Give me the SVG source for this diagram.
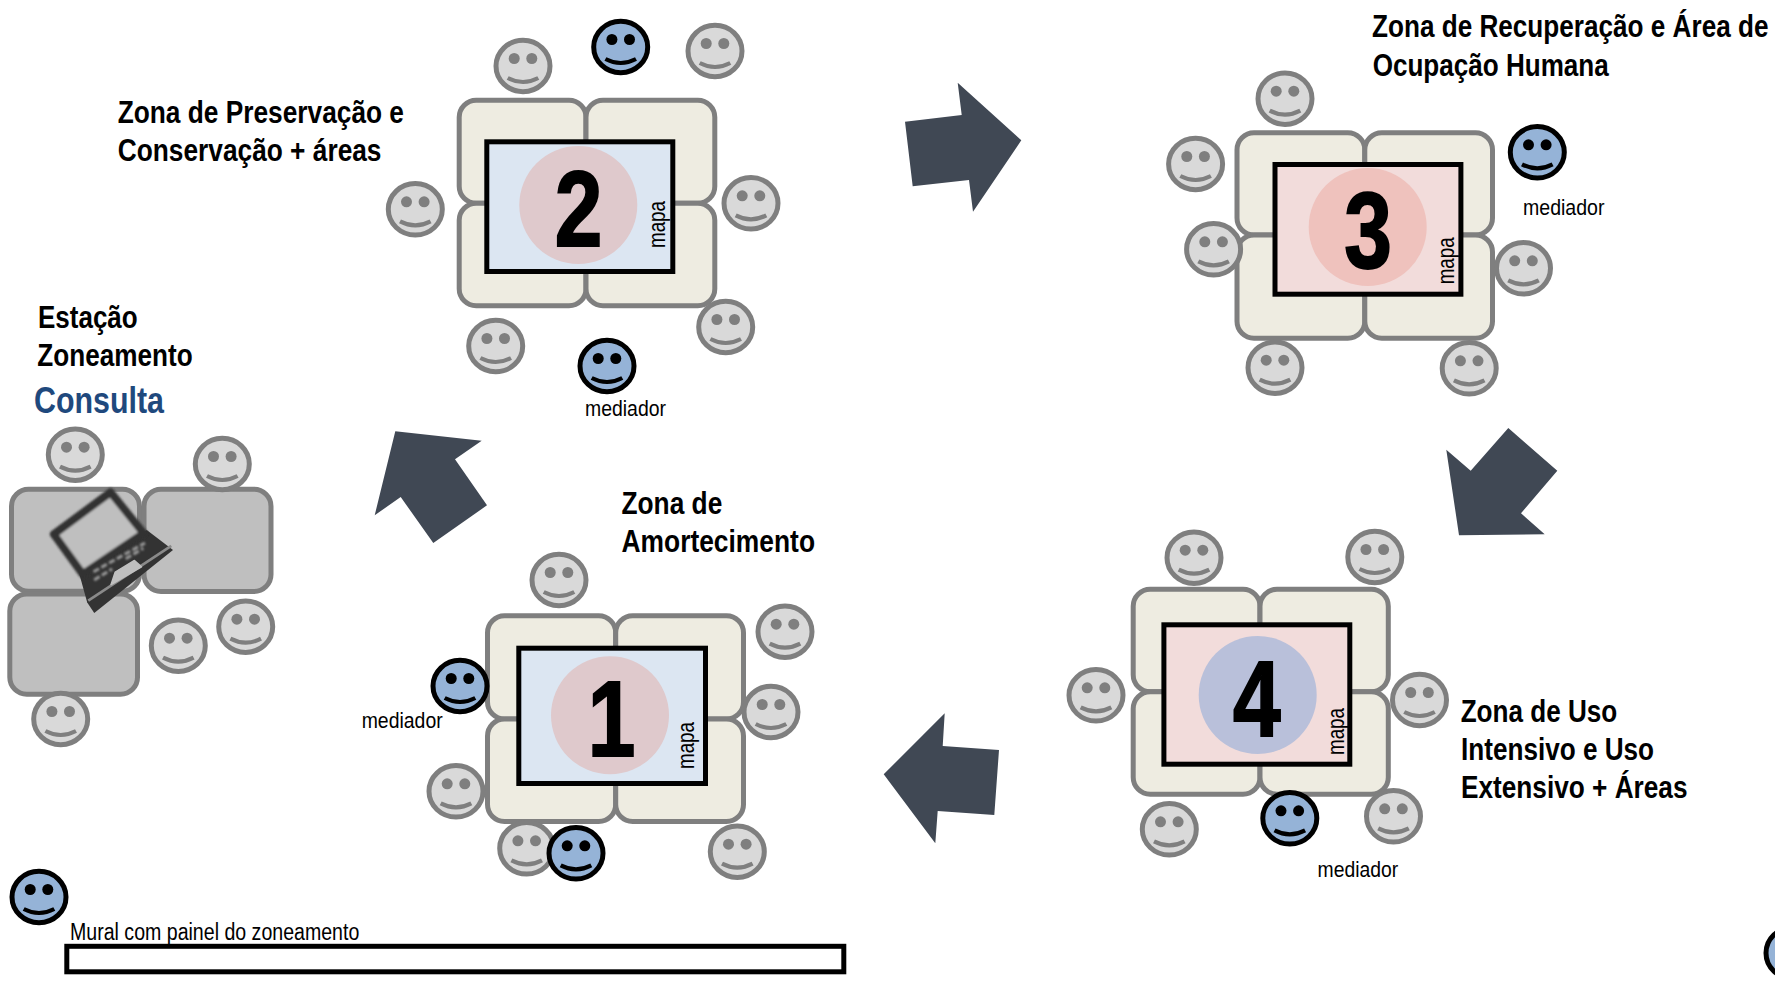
<svg xmlns="http://www.w3.org/2000/svg" xmlns:xlink="http://www.w3.org/1999/xlink" width="1775" height="982" viewBox="0 0 1775 982">
<style>
text{font-family:"Liberation Sans",Arial,sans-serif;fill:#000}
.t{stroke:#7f7f7f;stroke-width:5;fill:#eeece1}
.c .t{fill:#bfbfbf}
.m{stroke:#000;stroke-width:5;stroke-linejoin:miter}
.b{fill:#dce6f2}
.p{fill:#f2dcdb}
.h{font-size:32px;font-weight:700}
.s{font-size:22px}
.v{font-size:23px}
.d{font-size:107px;font-weight:700;text-anchor:middle;stroke:#000;stroke-width:2}
.a{fill:#404854}
</style>
<defs>
<g id="gray">
<ellipse rx="27" ry="25.7" fill="#d9d9d9" stroke="#7f7f7f" stroke-width="5"/>
<circle cx="-8.800" cy="-7.500" r="5.500" fill="#7f7f7f"/><circle cx="8.800" cy="-7.500" r="5.500" fill="#7f7f7f"/>
<path d="M-15.300 12Q0 20 15.300 12" fill="none" stroke="#7f7f7f" stroke-width="4.200"/>
</g>
<g id="blue">
<ellipse rx="27" ry="25.7" fill="#95b3d7" stroke="#000" stroke-width="5"/>
<circle cx="-8.800" cy="-7.500" r="5.500"/><circle cx="8.800" cy="-7.500" r="5.500"/>
<path d="M-15.300 12Q0 20 15.300 12" fill="none" stroke="#000" stroke-width="4.200"/>
</g>
<filter id="soft" x="-10%" y="-10%" width="120%" height="120%"><feGaussianBlur stdDeviation="0.8"/></filter>
</defs>

<g id="connectors">
<polygon class="a" points="905,121.700 961.700,115 957.700,82.700 1021.300,140.300 973,211.700 969,180 912.700,186.300"/>
<polygon class="a" points="1508.300,428 1557.300,470.700 1521,513.300 1544.700,534.300 1459,535.300 1446.300,449.700 1470.700,470.700"/>
<polygon class="a" points="999,750 942.700,746 944.700,713.300 883.700,774.300 935.300,843.300 937.700,811 994.300,815"/>
<polygon class="a" points="395.300,431.300 481.700,440.700 455,459.300 487,505.300 433.300,543 400.700,497 374.700,515.300"/>
</g>

<g id="estacao" class="c">
<rect class="t" x="11.500" y="489.200" width="128" height="102" rx="17"/>
<rect class="t" x="144" y="489.200" width="127" height="102.300" rx="17"/>
<rect class="t" x="9.800" y="594" width="127.700" height="100.200" rx="17"/>
<g id="laptop" transform="translate(110 550) scale(1.050) translate(-110 -550)">
<polygon points="145,531 170,550 95,610 88.300,600 80,570" fill="#333"/>
<polygon points="110.500,495 142,534 84,573 56.500,535" fill="#bfbfbf" stroke="#333" stroke-width="7.500" stroke-linejoin="round" filter="url(#soft)"/>
<line x1="89.300" y1="598.300" x2="168.300" y2="546" stroke="#8a8a8a" stroke-width="2.500"/>
<polygon points="111,583 115,571 133.300,560 140,566" fill="#bfbfbf" stroke="#bfbfbf" stroke-width="1.500" stroke-linejoin="round"/>
<g fill="none" stroke="#9a9a9a" stroke-width="2.800" stroke-dasharray="6 2.500" filter="url(#soft)">
<line x1="94.300" y1="570.700" x2="143.300" y2="543.300"/>
<line x1="95" y1="578.500" x2="112" y2="568"/>
<line x1="125" y1="558.300" x2="141.700" y2="548.300"/>
</g>
</g>
<use href="#gray" x="75.300" y="454.700"/>
<use href="#gray" x="222.300" y="464"/>
<use href="#gray" x="245.700" y="626.700"/>
<use href="#gray" x="178.300" y="645.700"/>
<use href="#gray" x="60.700" y="719"/>
<text class="h" x="38" y="328" textLength="99.700" lengthAdjust="spacingAndGlyphs">Estação</text>
<text class="h" x="37.300" y="366" textLength="155.400" lengthAdjust="spacingAndGlyphs">Zoneamento</text>
<text x="34" y="412.700" font-size="37" font-weight="700" style="fill:#1f497d" textLength="130" lengthAdjust="spacingAndGlyphs">Consulta</text>
</g>

<g id="estacao-2">
<rect class="t" x="459.200" y="100.200" width="126.800" height="103.100" rx="17"/>
<rect class="t" x="586" y="100.200" width="128.800" height="103.100" rx="17"/>
<rect class="t" x="459.200" y="203.300" width="126.800" height="102.500" rx="17"/>
<rect class="t" x="586" y="203.300" width="128.800" height="102.500" rx="17"/>
<rect class="m b" x="486.800" y="141.800" width="186" height="129.700"/>
<circle cx="578.300" cy="205" r="59" fill="#dfc9cc"/>
<text class="d" transform="translate(578.500 246) scale(.8 1)">2</text>
<text class="v" transform="translate(665 248) rotate(-90)" textLength="47" lengthAdjust="spacingAndGlyphs">mapa</text>
<use href="#gray" x="523" y="66"/>
<use href="#blue" x="620.700" y="47"/>
<use href="#gray" x="715" y="51"/>
<use href="#gray" x="415.300" y="209.300"/>
<use href="#gray" x="751" y="203.300"/>
<use href="#gray" x="495.700" y="346"/>
<use href="#blue" x="607" y="366"/>
<use href="#gray" x="725.700" y="327"/>
<text class="s" x="585" y="415.500" textLength="81" lengthAdjust="spacingAndGlyphs">mediador</text>
<text class="h" x="117.700" y="122.500" textLength="286.300" lengthAdjust="spacingAndGlyphs">Zona de Preservação e</text>
<text class="h" x="117.700" y="161" textLength="263.800" lengthAdjust="spacingAndGlyphs">Conservação + áreas</text>
</g>

<g id="estacao-3">
<rect class="t" x="1237" y="132.800" width="127.800" height="102.200" rx="17"/>
<rect class="t" x="1364.800" y="132.800" width="127.700" height="102.200" rx="17"/>
<rect class="t" x="1237" y="235" width="127.800" height="103.200" rx="17"/>
<rect class="t" x="1364.800" y="235" width="127.700" height="103.200" rx="17"/>
<rect class="m p" x="1275" y="164.500" width="185.900" height="129.700"/>
<circle cx="1367.700" cy="227" r="59" fill="#efc2bd"/>
<text class="d" transform="translate(1368 267.500) scale(.8 1)">3</text>
<text class="v" transform="translate(1453.500 284.300) rotate(-90)" textLength="47" lengthAdjust="spacingAndGlyphs">mapa</text>
<use href="#gray" x="1285" y="98.700"/>
<use href="#gray" x="1195.600" y="164"/>
<use href="#gray" x="1213.600" y="249.300"/>
<use href="#blue" x="1537.300" y="152.300"/>
<use href="#gray" x="1523.500" y="268.300"/>
<use href="#gray" x="1275" y="367.700"/>
<use href="#gray" x="1469.200" y="368.300"/>
<text class="s" x="1523" y="215" textLength="81.500" lengthAdjust="spacingAndGlyphs">mediador</text>
<text class="h" transform="translate(1372 37) scale(.817 1)">Zona de Recuperação e Área de</text>
<text class="h" x="1372.700" y="76.300" textLength="236" lengthAdjust="spacingAndGlyphs">Ocupação Humana</text>
</g>

<g id="estacao-4">
<rect class="t" x="1133.200" y="589.200" width="126.800" height="102.500" rx="17"/>
<rect class="t" x="1260" y="589.200" width="128.300" height="102.500" rx="17"/>
<rect class="t" x="1133.200" y="691.700" width="126.800" height="102.500" rx="17"/>
<rect class="t" x="1260" y="691.700" width="128.300" height="102.500" rx="17"/>
<rect class="m p" x="1163.900" y="624.800" width="185.900" height="139.400"/>
<circle cx="1257.700" cy="695" r="59" fill="#b9c0da"/>
<text class="d" transform="translate(1256.700 735.500) scale(.8 1)">4</text>
<text class="v" transform="translate(1343.500 755) rotate(-90)" textLength="47" lengthAdjust="spacingAndGlyphs">mapa</text>
<use href="#gray" x="1194" y="557.700"/>
<use href="#gray" x="1374.800" y="557"/>
<use href="#gray" x="1096" y="695.300"/>
<use href="#gray" x="1419.500" y="700"/>
<use href="#gray" x="1169.300" y="829.300"/>
<use href="#gray" x="1393.500" y="816.300"/>
<use href="#blue" x="1289.800" y="818.300"/>
<text class="s" x="1317.600" y="876.700" textLength="80.600" lengthAdjust="spacingAndGlyphs">mediador</text>
<text class="h" x="1460.700" y="722" textLength="156.500" lengthAdjust="spacingAndGlyphs">Zona de Uso</text>
<text class="h" x="1461" y="760" textLength="193" lengthAdjust="spacingAndGlyphs">Intensivo e Uso</text>
<text class="h" x="1461" y="797.700" textLength="226.500" lengthAdjust="spacingAndGlyphs">Extensivo + Áreas</text>
</g>

<g id="estacao-1">
<rect class="t" x="487.500" y="615.800" width="128.200" height="103.200" rx="17"/>
<rect class="t" x="615.700" y="615.800" width="127.800" height="103.200" rx="17"/>
<rect class="t" x="487.500" y="719" width="128.200" height="102.500" rx="17"/>
<rect class="t" x="615.700" y="719" width="127.800" height="102.500" rx="17"/>
<rect class="m b" x="518.800" y="648.200" width="186.700" height="135.300"/>
<circle cx="610" cy="715.300" r="59" fill="#dfc9cc"/>
<text class="d" transform="translate(611.500 756) scale(.8 1)">1</text>
<text class="v" transform="translate(694 769) rotate(-90)" textLength="47" lengthAdjust="spacingAndGlyphs">mapa</text>
<use href="#gray" x="559" y="580"/>
<use href="#gray" x="785" y="631.700"/>
<use href="#gray" x="771" y="712"/>
<use href="#blue" x="460" y="686"/>
<use href="#gray" x="456" y="791.300"/>
<use href="#gray" x="526.700" y="848.300"/>
<use href="#blue" x="576" y="853.300"/>
<use href="#gray" x="737.300" y="851.700"/>
<text class="s" x="361.700" y="727.700" textLength="81" lengthAdjust="spacingAndGlyphs">mediador</text>
<text class="h" x="621.500" y="514" textLength="100.800" lengthAdjust="spacingAndGlyphs">Zona de</text>
<text class="h" x="621.500" y="552" textLength="193.500" lengthAdjust="spacingAndGlyphs">Amortecimento</text>
</g>

<g id="mural">
<use href="#blue" x="39" y="897"/>
<text x="70" y="940" font-size="23" textLength="289.300" lengthAdjust="spacingAndGlyphs">Mural com painel do zoneamento</text>
<rect class="m" x="66.800" y="946.300" width="777" height="25.500" fill="#fff"/>
</g>
<g id="mediador-canto"><use href="#blue" x="1793" y="953"/></g>
</svg>
